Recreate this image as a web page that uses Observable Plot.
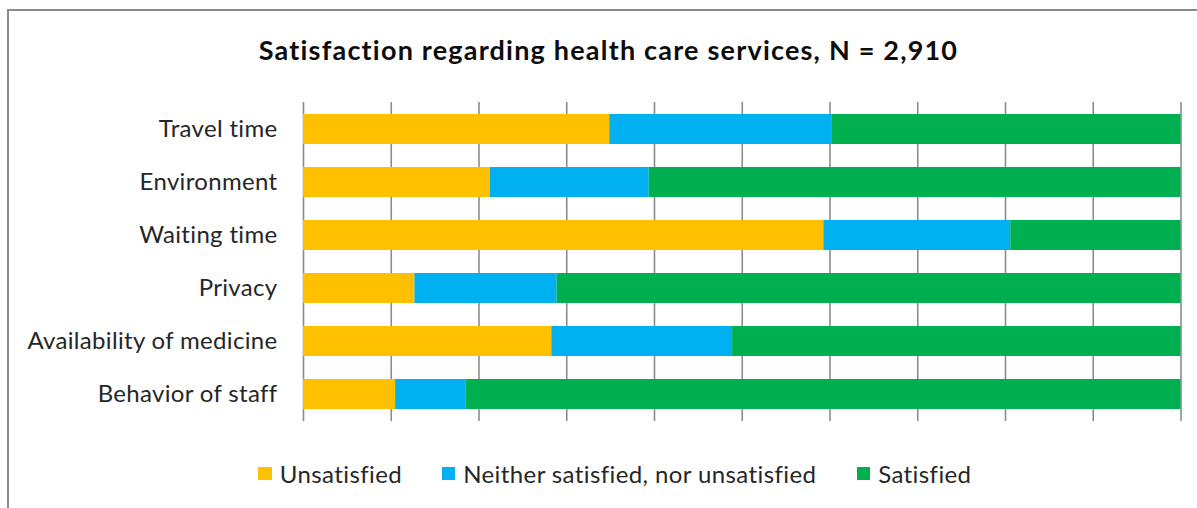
<!DOCTYPE html>
<html>
<head>
<meta charset="utf-8">
<script src="https://cdn.jsdelivr.net/npm/d3@7"></script>
<script src="https://cdn.jsdelivr.net/npm/@observablehq/plot@0.6"></script>
<style>
  html, body { margin: 0; padding: 0; background: #fff; overflow: hidden; }
  body { width: 1197px; height: 508px; position: relative; font-family: Lato, "Open Sans", sans-serif; color: #262626; font-variant-ligatures: none; }
  #frame { position: absolute; left: 7px; top: 9px; width: 1300px; height: 600px; border-top: 2px solid #8c8c8c; border-left: 2px solid #8c8c8c; pointer-events: none; }
  #title { position: absolute; left: 0; width: 1217px; top: 0; text-align: center; font-weight: bold; font-size: 27px; letter-spacing: 1.2px; line-height: 32px; color: #0d0d0d; }
  #chart { position: absolute; left: 0; top: 0; }
  .lg { position: absolute; display: flex; align-items: center; font-size: 24px; letter-spacing: 0.4px; line-height: 28px; color: #262626; white-space: nowrap; }
  .sw { width: 13.5px; height: 13.5px; margin-right: 8px; display: inline-block; }
</style>
</head>
<body>
<div id="chart"></div>
<div id="title"></div>
<div id="legend"></div>
<div id="frame"></div>
<script>
const title = "Satisfaction regarding health care services, N = 2,910";
const categories = ["Travel time", "Environment", "Waiting time", "Privacy", "Availability of medicine", "Behavior of staff"];
const statuses = ["Unsatisfied", "Neither satisfied, nor unsatisfied", "Satisfied"];
const colors = ["#FFC000", "#00B0F0", "#00B050"];
const unsatisfied = [34.9, 21.3, 59.3, 12.7, 28.3, 10.5];
const neither = [25.3, 18.1, 21.3, 16.2, 20.6, 8.0];
const satisfied = [39.8, 60.6, 19.4, 71.1, 51.1, 81.5];
const gridTicks = [0, 10, 20, 30, 40, 50, 60, 70, 80, 90, 100];

const series = [unsatisfied, neither, satisfied];
const data = [];
categories.forEach((c, i) => {
  statuses.forEach((s, j) => data.push({category: c, status: s, value: series[j][i]}));
});

const titleEl = document.getElementById("title");
titleEl.textContent = title;
titleEl.style.top = (60 - 27 * 0.987 - (32 - 27 * 1.2) / 2) + "px";

const plot = Plot.plot({
  width: 1197,
  height: 440,
  marginLeft: 303,
  marginRight: 16.5,
  marginTop: 102,
  marginBottom: 19,
  style: {fontFamily: "Lato, 'Open Sans', sans-serif", fontSize: "24px", letterSpacing: "0.33px", background: "none", color: "#262626", fontVariantLigatures: "none"},
  x: {domain: [0, 100], axis: null},
  y: {domain: categories, paddingInner: 0.43, paddingOuter: 0.215, axis: null},
  color: {domain: statuses, range: colors},
  marks: [
    Plot.ruleX(gridTicks, {x: d => d, stroke: "#8c8c8c", strokeWidth: 1.6}),
    Plot.barX(data, Plot.stackX({x: "value", y: "category", fill: "status", order: statuses})),
    Plot.axisY({tickSize: 0, tickPadding: 26, fill: "#262626", fontSize: 24, label: null})
  ]
});
document.getElementById("chart").appendChild(plot);

const legendPos = [258.3, 441.7, 856.7];
const legend = document.getElementById("legend");
statuses.forEach((s, i) => {
  const item = document.createElement("div");
  item.className = "lg";
  item.style.left = legendPos[i] + "px";
  item.style.top = (483 - 24 * 0.987 - (28 - 24 * 1.2) / 2) + "px";
  const sw = document.createElement("span");
  sw.className = "sw";
  sw.style.background = colors[i];
  const t = document.createElement("span");
  t.textContent = s;
  item.appendChild(sw);
  item.appendChild(t);
  legend.appendChild(item);
});
</script>
</body>
</html>
